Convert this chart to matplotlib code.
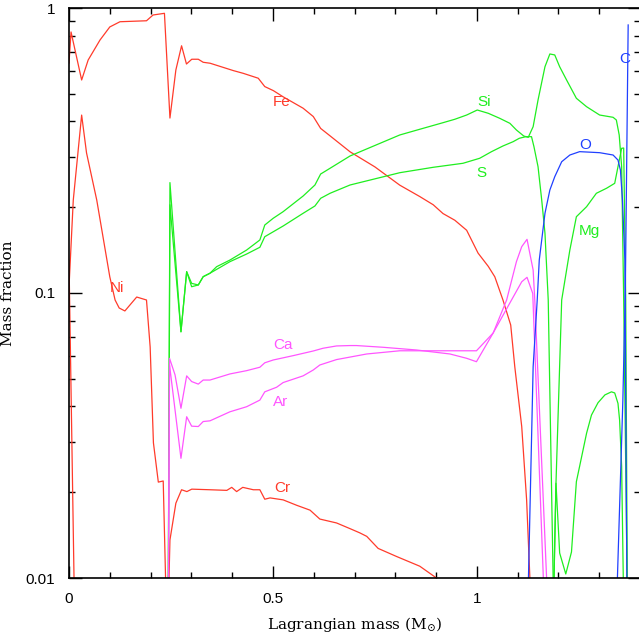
import matplotlib
matplotlib.use('Agg')
import matplotlib.pyplot as plt
from matplotlib.ticker import FixedLocator, NullFormatter, FixedFormatter, MultipleLocator

# ---------------- data (mass fraction vs Lagrangian mass) ----------------
fe_x = [0.0, 0.005, 0.031, 0.047, 0.076, 0.100, 0.125, 0.190, 0.206, 0.234, 0.2475, 0.262, 0.276, 0.288, 0.301,
        0.317, 0.329, 0.346, 0.403, 0.427, 0.464, 0.480, 0.501, 0.525, 0.574, 0.599, 0.617, 0.640, 0.689, 0.750,
        0.811, 0.860, 0.893, 0.917, 0.946, 0.975, 1.003, 1.028, 1.044, 1.064, 1.083, 1.093, 1.110, 1.122, 1.130, 1.135]
fe_y = [0.641, 0.824, 0.559, 0.657, 0.772, 0.858, 0.895, 0.902, 0.945, 0.958, 0.411, 0.606, 0.737, 0.636, 0.661,
        0.661, 0.645, 0.640, 0.603, 0.590, 0.567, 0.530, 0.513, 0.488, 0.445, 0.416, 0.378, 0.356, 0.313, 0.277,
        0.239, 0.218, 0.204, 0.190, 0.180, 0.166, 0.138, 0.124, 0.114, 0.0945, 0.0772, 0.0551, 0.0340, 0.0188, 0.0100, 0.005]

ni_x = [0.0, 0.0105, 0.031, 0.043, 0.068, 0.100, 0.113, 0.123, 0.137, 0.166, 0.190, 0.199, 0.207, 0.219, 0.231, 0.2405]
ni_y = [0.105, 0.212, 0.421, 0.310, 0.212, 0.114, 0.0945, 0.0886, 0.0865, 0.0968, 0.0945, 0.0646, 0.0298, 0.0217, 0.0219, 0.006]

cr_x = [0.0, 0.0123, 0.015, 0.240, 0.2475, 0.262, 0.276, 0.289, 0.301, 0.346, 0.387, 0.399, 0.411, 0.426, 0.452,
        0.468, 0.480, 0.493, 0.525, 0.558, 0.591, 0.615, 0.656, 0.689, 0.713, 0.730, 0.758, 0.803, 0.860, 0.901, 0.93]
cr_y = [0.13, 0.010, 0.005, 0.005, 0.0136, 0.0183, 0.0204, 0.0201, 0.0205, 0.0204, 0.0203, 0.0208, 0.0201, 0.0208, 0.0204,
        0.0204, 0.0189, 0.0191, 0.0188, 0.0180, 0.0173, 0.0161, 0.0156, 0.0149, 0.0144, 0.0140, 0.0127, 0.0119, 0.0110, 0.0100, 0.0085]

si_x = [0.242, 0.2475, 0.2745, 0.2885, 0.3007, 0.317, 0.329, 0.3456, 0.362, 0.3946, 0.4355, 0.468, 0.480, 0.5007, 0.525,
        0.574, 0.603, 0.617, 0.640, 0.689, 0.811, 0.860, 0.917, 0.946, 0.975, 1.001, 1.028, 1.056, 1.081, 1.097,
        1.115, 1.126, 1.138, 1.150, 1.167, 1.179, 1.191, 1.203, 1.220, 1.244, 1.269, 1.301, 1.334, 1.342, 1.349,
        1.355, 1.360, 1.369]
si_y = [0.003, 0.244, 0.0731, 0.1188, 0.1081, 0.1067, 0.1141, 0.1173, 0.1237, 0.1305, 0.1415, 0.1535, 0.1732, 0.1829, 0.1929,
        0.2189, 0.2393, 0.2615, 0.2739, 0.3025, 0.3585, 0.3754, 0.3959, 0.4070, 0.4212, 0.4386, 0.4271, 0.4102, 0.3939, 0.3732,
        0.3555, 0.3517, 0.3834, 0.4755, 0.6223, 0.6898, 0.6843, 0.6223, 0.559, 0.4822, 0.4505, 0.4212, 0.4135, 0.4046, 0.3585,
        0.2774, 0.0945, 0.0084]

s_x = [0.242, 0.2475, 0.2745, 0.2885, 0.3007, 0.317, 0.329, 0.3456, 0.3946, 0.4355, 0.468, 0.480, 0.525, 0.574, 0.603,
       0.617, 0.640, 0.689, 0.811, 0.893, 0.966, 1.007, 1.036, 1.064, 1.089, 1.104, 1.120, 1.134, 1.140, 1.150,
       1.159, 1.167, 1.175, 1.187, 1.191]
s_y = [0.003, 0.204, 0.0731, 0.1188, 0.1052, 0.1067, 0.1141, 0.1173, 0.1288, 0.1370, 0.1447, 0.1576, 0.1718, 0.1904, 0.2020,
       0.2149, 0.2238, 0.2393, 0.2643, 0.2761, 0.2852, 0.2970, 0.3133, 0.3280, 0.3396, 0.3490, 0.3536, 0.3536, 0.3261, 0.2774,
       0.2120, 0.1621, 0.0945, 0.0100, 0.006]

ca_x = [0.242, 0.2465, 0.260, 0.2745, 0.2885, 0.3007, 0.317, 0.329, 0.3456, 0.3946, 0.4355, 0.468, 0.480, 0.5007, 0.550,
        0.599, 0.623, 0.656, 0.689, 0.705, 0.770, 0.852, 0.934, 0.975, 0.999, 1.040, 1.073, 1.097, 1.110, 1.123,
        1.138, 1.142, 1.171, 1.175]
ca_y = [0.003, 0.0590, 0.0516, 0.0394, 0.0512, 0.0489, 0.0479, 0.0495, 0.0495, 0.0520, 0.0534, 0.0549, 0.0569, 0.0582, 0.0603,
        0.0626, 0.0640, 0.0652, 0.0654, 0.0654, 0.0645, 0.0631, 0.0611, 0.0590, 0.0574, 0.0724, 0.0945, 0.1288, 0.1454, 0.1543,
        0.1204, 0.0945, 0.0100, 0.006]

ar_x = [0.242, 0.2465, 0.2745, 0.2885, 0.3007, 0.317, 0.329, 0.3456, 0.3946, 0.4355, 0.468, 0.480, 0.509, 0.525, 0.574,
        0.599, 0.615, 0.656, 0.730, 0.811, 0.893, 0.999, 1.040, 1.085, 1.110, 1.123, 1.137, 1.163, 1.167]
ar_y = [0.003, 0.0559, 0.0263, 0.0368, 0.0341, 0.0340, 0.0354, 0.0356, 0.0383, 0.0399, 0.0421, 0.0450, 0.0467, 0.0485, 0.0512,
        0.0537, 0.0559, 0.0584, 0.0611, 0.0627, 0.0627, 0.0627, 0.0724, 0.0945, 0.1095, 0.1135, 0.0997, 0.0100, 0.006]

mg_x = [1.186, 1.194, 1.208, 1.228, 1.244, 1.269, 1.293, 1.318, 1.338, 1.346, 1.355, 1.360, 1.365, 1.369]
mg_y = [0.006, 0.0215, 0.0945, 0.1415, 0.1852, 0.2008, 0.2238, 0.2331, 0.2426, 0.2774, 0.3219, 0.3226, 0.0945, 0.0084]

ne_x = [1.186, 1.194, 1.203, 1.218, 1.232, 1.244, 1.269, 1.281, 1.297, 1.314, 1.330, 1.338, 1.346, 1.350, 1.355, 1.359, 1.360]
ne_y = [0.006, 0.0215, 0.01224, 0.01033, 0.01234, 0.02177, 0.0322, 0.0373, 0.0412, 0.0439, 0.0450, 0.0446, 0.0410, 0.0358,
        0.0246, 0.0100, 0.0071]

o_x = [1.125, 1.138, 1.148, 1.153, 1.167, 1.179, 1.191, 1.208, 1.228, 1.252, 1.301, 1.334, 1.346, 1.352, 1.357, 1.363, 1.365, 1.368]
o_y = [0.008, 0.0551, 0.0945, 0.1305, 0.1904, 0.2298, 0.2559, 0.2888, 0.3049, 0.3133, 0.3107, 0.3049, 0.2928, 0.2701,
       0.2120, 0.1305, 0.0421, 0.0091]

c_x = [1.343, 1.358, 1.364, 1.371]
c_y = [0.0084, 0.0421, 0.1024, 0.872]

y_ticks = [0.01, 0.1, 1]
y_tick_labels = ['0.01', '0.1', '1']
x_ticks = [0, 0.5, 1]
x_tick_labels = ['0', '0.5', '1']

# ---------------- styling ----------------
RED = '#ff3b2b'
GREEN = '#1fee1f'
MAG = '#ff55ff'
BLUE = '#2040ff'
SANS = 'Liberation Sans'
SERIF = 'DejaVu Serif'
plt.rcParams['mathtext.fontset'] = 'dejavuserif'

fig = plt.figure(figsize=(6.39, 6.33), dpi=100)
ax = fig.add_axes([69 / 639, 55 / 633, 571 / 639, 570 / 633])

lw = 0.9
series = [
    (fe_x, fe_y, RED), (ni_x, ni_y, RED), (cr_x, cr_y, RED),
    (si_x, si_y, GREEN), (s_x, s_y, GREEN), (mg_x, mg_y, GREEN), (ne_x, ne_y, GREEN),
    (ca_x, ca_y, MAG), (ar_x, ar_y, MAG),
    (o_x, o_y, BLUE), (c_x, c_y, BLUE),
]
for xs, ys, col in series:
    ax.plot(xs, ys, color=col, lw=lw)

ax.set_yscale('log')
ax.set_xlim(0, 1.4)
ax.set_ylim(0.01, 1)

ax.yaxis.set_major_locator(FixedLocator(y_ticks))
ax.yaxis.set_major_formatter(FixedFormatter(y_tick_labels))
minor_y = [m * d for d in (0.01, 0.1) for m in range(2, 10)]
ax.yaxis.set_minor_locator(FixedLocator(minor_y))
ax.yaxis.set_minor_formatter(NullFormatter())
ax.xaxis.set_major_locator(FixedLocator(x_ticks))
ax.xaxis.set_major_formatter(FixedFormatter(x_tick_labels))
ax.xaxis.set_minor_locator(MultipleLocator(0.1))

ax.tick_params(which='both', direction='in', top=True, right=True, colors='black', width=1.0)
ax.tick_params(which='major', length=9, labelsize=11, pad=10)
ax.tick_params(which='minor', length=4.5)
for lab in ax.get_xticklabels() + ax.get_yticklabels():
    lab.set_fontfamily(SANS)
for sp in ax.spines.values():
    sp.set_linewidth(1.2)

ax.set_xlabel(r'Lagrangian mass (M$_{\odot}$)', family=SERIF, fontsize=11)
ax.set_ylabel('Mass fraction', family=SERIF, fontsize=11)
ax.xaxis.set_label_coords(0.5, -0.065)
ax.yaxis.set_label_coords(-0.095, 0.5)

labels = [
    ('Fe', 0.522, 0.468, RED), ('Ni', 0.118, 0.104, RED), ('Cr', 0.522, 0.0207, RED),
    ('Si', 1.017, 0.468, GREEN), ('S', 1.012, 0.2636, GREEN), ('Mg', 1.277, 0.1651, GREEN),
    ('Ca', 0.525, 0.0657, MAG), ('Ar', 0.520, 0.0414, MAG),
    ('O', 1.265, 0.3306, BLUE), ('C', 1.363, 0.663, BLUE),
]
for t, x, y, col in labels:
    ax.text(x, y, t, color=col, family=SANS, fontsize=11, ha='center', va='center')

fig.savefig('out.png', dpi=100)
